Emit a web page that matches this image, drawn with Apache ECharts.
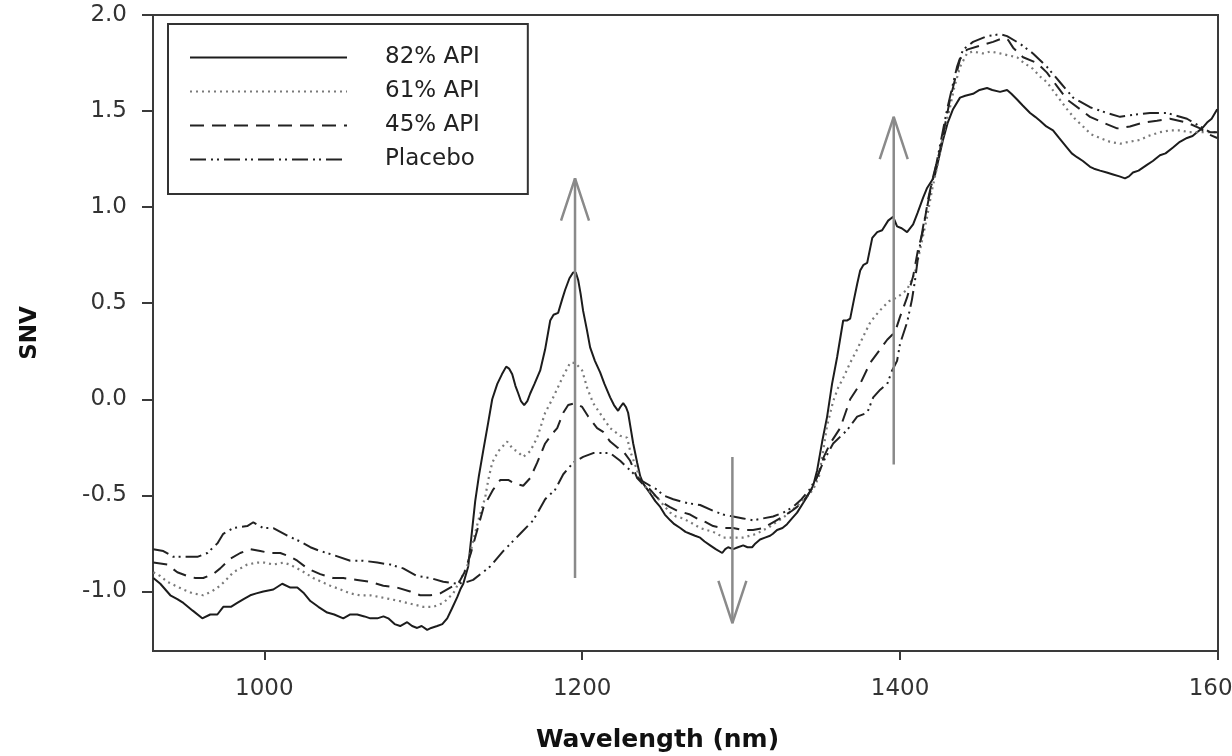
<!DOCTYPE html>
<html>
<head>
<meta charset="utf-8">
<script src="https://cdn.jsdelivr.net/npm/echarts@6/dist/echarts.min.js"></script>
<style>
html,body{margin:0;padding:0;background:#fff;}
#chart{width:1232px;height:756px;}
</style>
</head>
<body>
<div id="chart"></div>
<script>
// ---------------- data ----------------
const seriesNames = ['82% API', '61% API', '45% API', 'Placebo'];
const xTicks = [1000, 1200, 1400, 1600];
const yTicks = [-1.0, -0.5, 0.0, 0.5, 1.0, 1.5, 2.0];

const api82 = [[930.2,-0.93],[934.6,-0.96],[940.9,-1.02],[945.3,-1.04],[949.1,-1.06],[955,-1.10],[961.0,-1.14],[966,-1.12],[970.5,-1.12],[974.2,-1.08],[979,-1.08],[983.0,-1.06],[987,-1.04],[991.2,-1.02],[995,-1.01],[999.4,-1.00],[1005.7,-0.99],[1011.3,-0.96],[1016.4,-0.98],[1020.8,-0.98],[1025,-1.01],[1029.0,-1.05],[1034,-1.08],[1039.6,-1.11],[1044,-1.12],[1049.7,-1.14],[1054.1,-1.12],[1058.5,-1.12],[1063,-1.13],[1066.7,-1.14],[1071.1,-1.14],[1075,-1.13],[1078.0,-1.14],[1082,-1.17],[1085.5,-1.18],[1089.9,-1.16],[1093,-1.18],[1096.2,-1.19],[1099,-1.18],[1102.5,-1.20],[1105,-1.19],[1108.8,-1.18],[1112,-1.17],[1115.1,-1.14],[1118,-1.09],[1121.4,-1.03],[1123.3,-0.99],[1125.2,-0.96],[1128.3,-0.87],[1130.5,-0.70],[1132.7,-0.53],[1135,-0.40],[1137.7,-0.27],[1140.9,-0.12],[1143.4,0.00],[1146.6,0.08],[1149.5,0.13],[1152.2,0.17],[1154,0.16],[1156.0,0.13],[1158,0.07],[1159.8,0.03],[1161.5,-0.01],[1163.5,-0.03],[1165.5,-0.01],[1167.3,0.03],[1170,0.08],[1173.6,0.15],[1176.7,0.26],[1179.9,0.41],[1182,0.44],[1184.9,0.45],[1187.4,0.52],[1189.3,0.57],[1192,0.63],[1194.3,0.66],[1196,0.66],[1197.5,0.62],[1199,0.55],[1200.6,0.46],[1203,0.36],[1205.0,0.27],[1208,0.20],[1211.3,0.14],[1214,0.08],[1217.6,0.01],[1220,-0.03],[1222.6,-0.06],[1224,-0.04],[1225.8,-0.02],[1227.5,-0.04],[1228.9,-0.07],[1230.5,-0.15],[1232.1,-0.23],[1234.6,-0.33],[1236.5,-0.40],[1238.5,-0.44],[1242.8,-0.49],[1246,-0.53],[1249.1,-0.56],[1252,-0.60],[1255.4,-0.63],[1258,-0.65],[1261.7,-0.67],[1265,-0.69],[1267.9,-0.70],[1271,-0.71],[1274.2,-0.72],[1277,-0.74],[1280.5,-0.76],[1284,-0.78],[1288.1,-0.80],[1290,-0.78],[1291.8,-0.77],[1295.0,-0.78],[1298,-0.77],[1301.3,-0.76],[1304,-0.77],[1306.9,-0.77],[1309,-0.75],[1311.9,-0.73],[1315,-0.72],[1318.2,-0.71],[1320,-0.70],[1322.6,-0.68],[1326,-0.67],[1328.9,-0.65],[1332,-0.62],[1335.2,-0.59],[1339.0,-0.54],[1342,-0.50],[1345.3,-0.45],[1347.8,-0.37],[1351.0,-0.22],[1354.1,-0.09],[1357.2,0.08],[1360.4,0.22],[1364.2,0.41],[1366.5,0.41],[1368.6,0.42],[1371,0.52],[1373.0,0.60],[1374.9,0.67],[1377,0.70],[1379.3,0.71],[1382.5,0.84],[1385.6,0.87],[1388.7,0.88],[1392.5,0.93],[1395.6,0.95],[1398.1,0.90],[1401,0.89],[1404.4,0.87],[1408.2,0.91],[1411,0.97],[1414.5,1.05],[1417,1.10],[1420.1,1.14],[1422.0,1.17],[1424.5,1.26],[1427.0,1.35],[1430,1.44],[1433.3,1.51],[1437.7,1.57],[1441,1.58],[1445.9,1.59],[1450,1.61],[1454.7,1.62],[1458,1.61],[1462.9,1.60],[1467.3,1.61],[1470,1.59],[1473.6,1.56],[1477,1.53],[1481.8,1.49],[1485,1.47],[1488.0,1.45],[1492,1.42],[1496.2,1.40],[1500,1.36],[1505.0,1.31],[1508,1.28],[1511.3,1.26],[1515,1.24],[1519.5,1.21],[1522,1.20],[1525.8,1.19],[1530,1.18],[1534.0,1.17],[1538,1.16],[1541.5,1.15],[1544,1.16],[1546.5,1.18],[1550,1.19],[1555.3,1.22],[1559,1.24],[1563.5,1.27],[1567,1.28],[1571.7,1.31],[1576,1.34],[1580.5,1.36],[1584,1.37],[1586.8,1.39],[1590,1.41],[1593.1,1.44],[1596,1.46],[1599.5,1.51]];

const api61 = [[930.2,-0.90],[934.6,-0.92],[939.0,-0.95],[944,-0.97],[949.1,-0.99],[955,-1.01],[961.6,-1.02],[967,-1.00],[972.3,-0.97],[976,-0.94],[980.5,-0.90],[985,-0.88],[989.3,-0.86],[995.6,-0.85],[1000,-0.85],[1005.7,-0.86],[1012.0,-0.85],[1016,-0.86],[1020.8,-0.88],[1025,-0.90],[1030.8,-0.93],[1036,-0.95],[1041.5,-0.97],[1048,-0.99],[1054.1,-1.01],[1060,-1.02],[1066.7,-1.02],[1073,-1.03],[1079.2,-1.04],[1085,-1.05],[1089.9,-1.06],[1095,-1.07],[1100.0,-1.08],[1106.3,-1.08],[1112.6,-1.06],[1118.9,-1.01],[1123.3,-0.94],[1127.7,-0.87],[1131,-0.75],[1135,-0.62],[1139.0,-0.51],[1140.9,-0.42],[1143.4,-0.33],[1147.2,-0.27],[1152.8,-0.22],[1156.6,-0.26],[1159,-0.27],[1162.9,-0.30],[1167.3,-0.27],[1171.7,-0.20],[1176.7,-0.07],[1181.8,0.01],[1187.4,0.11],[1192.4,0.19],[1195.6,0.19],[1200.0,0.15],[1203.1,0.06],[1206.9,-0.02],[1212.6,-0.09],[1217.6,-0.15],[1223.9,-0.19],[1228.3,-0.20],[1230.2,-0.27],[1234.6,-0.37],[1236.5,-0.42],[1241,-0.47],[1247.2,-0.51],[1251,-0.55],[1255.4,-0.59],[1259,-0.61],[1263.5,-0.62],[1268,-0.64],[1274.2,-0.67],[1278,-0.68],[1282.4,-0.69],[1285,-0.70],[1288.7,-0.72],[1293,-0.72],[1297.5,-0.72],[1301,-0.72],[1305.6,-0.71],[1310,-0.70],[1313.8,-0.68],[1317,-0.67],[1320.1,-0.65],[1324,-0.63],[1328.9,-0.60],[1333,-0.57],[1337.1,-0.54],[1341,-0.51],[1345.3,-0.47],[1349,-0.40],[1351.6,-0.27],[1354,-0.14],[1357.9,-0.01],[1361,0.06],[1364.2,0.11],[1368.6,0.19],[1373.0,0.26],[1377,0.33],[1381.2,0.40],[1385,0.44],[1389.3,0.48],[1393,0.51],[1398.1,0.53],[1404.4,0.57],[1409.4,0.66],[1412.6,0.78],[1417.0,0.95],[1420.1,1.09],[1423.3,1.21],[1427,1.37],[1431.4,1.52],[1434,1.62],[1437.7,1.73],[1442.1,1.80],[1445.9,1.81],[1452,1.80],[1457,1.81],[1462.9,1.80],[1468,1.79],[1473.6,1.78],[1478,1.75],[1483.6,1.72],[1488,1.68],[1492.4,1.65],[1498.7,1.58],[1505.0,1.51],[1510,1.46],[1515.1,1.42],[1520,1.38],[1525.8,1.36],[1532,1.34],[1538.4,1.33],[1544,1.34],[1550.9,1.35],[1556,1.37],[1563.5,1.39],[1570,1.40],[1576.1,1.40],[1582,1.39],[1588.7,1.39],[1594,1.39],[1599.5,1.39]];

const api45 = [[930.2,-0.85],[939.0,-0.86],[945.3,-0.90],[951.6,-0.92],[956.6,-0.93],[961.6,-0.93],[967.9,-0.91],[972.3,-0.88],[978.6,-0.83],[984.9,-0.80],[991.2,-0.78],[997.5,-0.79],[1003.8,-0.80],[1010.1,-0.80],[1016.4,-0.82],[1020.8,-0.84],[1027.1,-0.88],[1035.2,-0.91],[1043.4,-0.93],[1049.7,-0.93],[1058.5,-0.94],[1066.7,-0.95],[1074.9,-0.97],[1083.7,-0.98],[1091.8,-1.00],[1098.1,-1.02],[1104.4,-1.02],[1110.7,-1.01],[1117.0,-0.98],[1122.0,-0.96],[1126,-0.90],[1130,-0.80],[1134,-0.68],[1138,-0.56],[1144.0,-0.47],[1148.4,-0.42],[1153.5,-0.42],[1158,-0.44],[1162.9,-0.45],[1167.3,-0.41],[1171.7,-0.33],[1176.7,-0.23],[1181.1,-0.18],[1184.3,-0.15],[1188.1,-0.07],[1191.2,-0.03],[1195.6,-0.02],[1200.0,-0.04],[1203.8,-0.09],[1209.4,-0.15],[1213.2,-0.17],[1217.6,-0.22],[1222.0,-0.25],[1225.8,-0.27],[1230.2,-0.32],[1234.6,-0.41],[1238,-0.44],[1242.8,-0.47],[1247,-0.51],[1251.0,-0.54],[1255,-0.56],[1259.8,-0.58],[1264,-0.59],[1267.9,-0.60],[1274.2,-0.63],[1278,-0.64],[1282.4,-0.66],[1288.7,-0.67],[1295.0,-0.67],[1301.3,-0.68],[1307.5,-0.68],[1313.8,-0.67],[1320.1,-0.64],[1326.4,-0.61],[1332,-0.58],[1335.2,-0.56],[1340,-0.52],[1345,-0.46],[1349,-0.38],[1352,-0.30],[1356.0,-0.23],[1362.3,-0.15],[1368.6,0.00],[1374.9,0.08],[1381.2,0.19],[1387.5,0.26],[1391.9,0.31],[1396.8,0.35],[1400.0,0.43],[1404.4,0.53],[1408.2,0.64],[1411.3,0.78],[1414.5,0.88],[1417.6,1.04],[1420.8,1.16],[1425.2,1.30],[1431.4,1.56],[1437.7,1.77],[1442.1,1.82],[1450.3,1.84],[1458.5,1.86],[1464.8,1.88],[1468,1.87],[1471.1,1.83],[1477.4,1.78],[1486.2,1.75],[1492.4,1.70],[1498.7,1.63],[1505.0,1.56],[1513.2,1.51],[1519.5,1.47],[1527.7,1.44],[1536.5,1.41],[1544.6,1.42],[1552.8,1.44],[1561.6,1.45],[1569.8,1.46],[1580.5,1.44],[1588.7,1.41],[1594,1.38],[1599.5,1.36]];

const placebo = [[930.2,-0.78],[936.5,-0.79],[942.8,-0.82],[949.1,-0.82],[957.9,-0.82],[964.2,-0.80],[970.5,-0.75],[974.2,-0.70],[980.5,-0.67],[989.3,-0.66],[993.1,-0.64],[999.4,-0.67],[1005.7,-0.67],[1014.5,-0.71],[1022.6,-0.74],[1029.0,-0.77],[1035.2,-0.79],[1043.4,-0.81],[1054.1,-0.84],[1062.3,-0.84],[1071.1,-0.85],[1079.2,-0.86],[1087.4,-0.88],[1096.2,-0.92],[1104.4,-0.93],[1112.6,-0.95],[1121.4,-0.96],[1127.7,-0.95],[1131.4,-0.94],[1136,-0.91],[1142.1,-0.87],[1150.3,-0.79],[1161.0,-0.70],[1169.2,-0.63],[1176.7,-0.52],[1183.0,-0.47],[1188.1,-0.39],[1194.3,-0.33],[1200.6,-0.30],[1206.9,-0.28],[1212.6,-0.28],[1217.6,-0.28],[1223.9,-0.32],[1230.2,-0.37],[1236.5,-0.42],[1242.8,-0.45],[1247.2,-0.47],[1251.0,-0.50],[1257.3,-0.52],[1266.0,-0.54],[1274.2,-0.55],[1282.4,-0.58],[1288.7,-0.60],[1295.0,-0.61],[1301.3,-0.62],[1307.5,-0.63],[1313.8,-0.62],[1320.1,-0.61],[1326.4,-0.59],[1332.7,-0.56],[1338,-0.52],[1343,-0.47],[1348,-0.40],[1352,-0.32],[1357.9,-0.23],[1366.7,-0.16],[1373.0,-0.09],[1379.3,-0.07],[1383.1,0.01],[1387.5,0.05],[1391.9,0.08],[1395.0,0.15],[1398.1,0.20],[1400.0,0.29],[1404.4,0.40],[1407.5,0.52],[1409.4,0.62],[1411.3,0.74],[1414.5,0.90],[1417.0,1.00],[1420.1,1.13],[1422.0,1.19],[1429.6,1.51],[1435.8,1.73],[1439.6,1.82],[1445.9,1.86],[1454.7,1.89],[1462.9,1.90],[1467.3,1.89],[1475.5,1.85],[1483.6,1.80],[1492.4,1.73],[1500.6,1.65],[1508.8,1.57],[1519.5,1.52],[1530.2,1.49],[1538.4,1.47],[1546.5,1.48],[1557.2,1.49],[1567.9,1.49],[1580.5,1.46],[1588.7,1.42],[1595.0,1.39],[1599.5,1.39]];

// annotation arrows: wavelength, tail SNV, tip SNV
const arrowX    = [1195.5, 1294.5, 1396.0];
const arrowTail = [-0.93, -0.30, -0.34];
const arrowTip  = [1.15, -1.165, 1.47];

// ---------------- chart ----------------
const FONT = 'DejaVu Sans';
const AX = '#3a3a3a';
const HEAD_HALF_W = 8.8;   // nm
const HEAD_LEN = 0.22;     // SNV units

const lineStyles = [
  {color:'#1c1c1c', width:2, type:'solid'},
  {color:'#7a7a7a', width:2.2, type:[2,4]},
  {color:'#222222', width:2, type:[14,8]},
  {color:'#222222', width:2, type:[16,5,2,4,2,5]}
];
const dataSets = [api82, api61, api45, placebo];

const series = seriesNames.map((n,i)=>({
  name:n, type:'line', data:dataSets[i], symbol:'none', smooth:false,
  lineStyle:lineStyles[i], itemStyle:{color:lineStyles[i].color}, z:3, silent:true
}));

arrowX.forEach((x,i)=>{
  const dir = arrowTip[i] > arrowTail[i] ? 1 : -1;
  const st = {color:'#8a8a8a', width:2.5};
  series.push({type:'line', name:'arrow'+i+'s', data:[[x,arrowTail[i]],[x,arrowTip[i]]],
    symbol:'none', lineStyle:st, z:4, silent:true});
  series.push({type:'line', name:'arrow'+i+'h', data:[[x-HEAD_HALF_W, arrowTip[i]-dir*HEAD_LEN],[x,arrowTip[i]],[x+HEAD_HALF_W, arrowTip[i]-dir*HEAD_LEN]],
    symbol:'none', lineStyle:st, z:4, silent:true});
});

const chart = echarts.init(document.getElementById('chart'), null, {renderer:'canvas'});
chart.setOption({
  animation:false,
  backgroundColor:'#ffffff',
  textStyle:{fontFamily:FONT},
  grid:{left:153, right:14, top:15, bottom:105, outerBoundsMode:'none', containLabel:false,
        show:true, borderColor:AX, borderWidth:2, backgroundColor:'transparent'},
  legend:{
    data:seriesNames, orient:'vertical', left:168, top:24,
    padding:[22,48,23,21], itemGap:11, itemWidth:157, itemHeight:20,
    borderColor:'#333', borderWidth:2, backgroundColor:'#fff',
    itemStyle:{opacity:0, borderWidth:0},
    textStyle:{fontFamily:FONT, fontSize:23, color:'#222', lineHeight:20, padding:[0,0,0,33]},
    selectedMode:false
  },
  xAxis:{
    type:'value', min:930, max:1600,
    name:'Wavelength (nm)', nameLocation:'middle', nameGap:77,
    nameTextStyle:{fontFamily:FONT, fontSize:25, fontWeight:'bold', color:'#111', padding:[0,56,0,0]},
    axisLine:{show:true, onZero:false, lineStyle:{color:AX, width:2}},
    axisTick:{show:true, customValues:xTicks, length:9, lineStyle:{color:AX, width:2}},
    axisLabel:{customValues:xTicks, fontFamily:FONT, fontSize:23, color:'#333', margin:27, showMaxLabel:true,
      formatter:v=>String(Math.round(v))},
    splitLine:{show:false}
  },
  yAxis:{
    type:'value', min:-1.31, max:2.0,
    name:'SNV', nameLocation:'middle', nameGap:111, nameRotate:90,
    nameTextStyle:{fontFamily:FONT, fontSize:23, fontWeight:'bold', color:'#111'},
    axisLine:{show:true, onZero:false, lineStyle:{color:AX, width:2}},
    axisTick:{show:true, customValues:yTicks, length:11, lineStyle:{color:AX, width:2}},
    axisLabel:{customValues:yTicks, fontFamily:FONT, fontSize:23, color:'#333', margin:26,
      formatter:v=>Number(v).toFixed(1)},
    splitLine:{show:false}
  },
  series:series
});
</script>
</body>
</html>
